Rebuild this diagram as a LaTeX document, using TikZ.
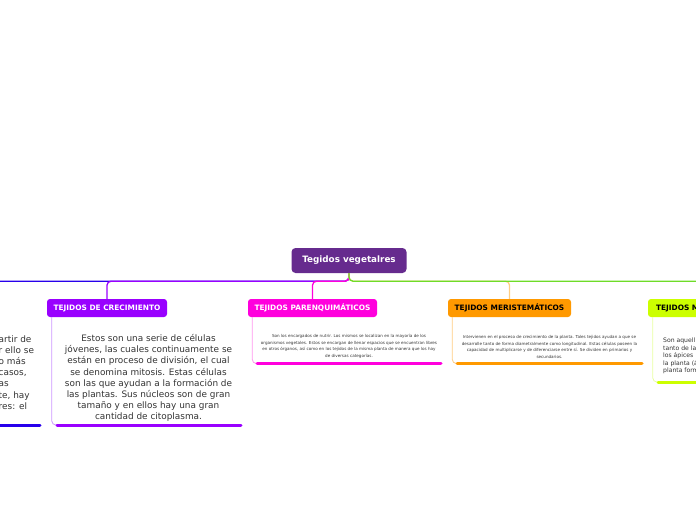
\documentclass[tikz,border=0pt]{standalone}
\usepackage{fontspec}
\setmainfont{DejaVu Sans}
\usetikzlibrary{positioning}
\definecolor{rootpurple}{RGB}{102,43,142}
\definecolor{growpurple}{RGB}{153,0,255}
\definecolor{growlight}{RGB}{205,150,255}
\definecolor{parenpink}{RGB}{255,0,221}
\definecolor{parenlight}{RGB}{255,150,238}
\definecolor{meriorange}{RGB}{255,153,0}
\definecolor{merilight}{RGB}{255,205,130}
\definecolor{limegreen}{RGB}{204,255,0}
\definecolor{limelight}{RGB}{232,255,160}
\definecolor{linkgreen}{RGB}{110,220,40}
\definecolor{deepblue}{RGB}{40,0,235}
\definecolor{textgray}{RGB}{51,51,51}

\begin{document}
\begin{tikzpicture}[x=1pt,y=-1pt,
  root/.style={fill=rootpurple,rounded corners=4pt,text=white,font=\bfseries\fontsize{8.8}{10}\selectfont,minimum width=115pt,minimum height=25pt},
  branch/.style={rounded corners=3pt,font=\bfseries\fontsize{7.4}{8}\selectfont,minimum height=18pt,inner sep=2pt},
  body/.style={text=textgray,align=center,inner sep=0pt},
  bigtext/.style={font=\fontsize{8.9}{11.1}\selectfont},
  tinytext/.style={font=\fontsize{4.1}{6.5}\selectfont},
  link/.style={line width=1.3pt,rounded corners=4pt},
  sideline/.style={line width=0.8pt,rounded corners=4pt},
  bar/.style={line width=3pt,line cap=round}
]
\useasboundingbox (0,0) rectangle (696,520);
\clip (0,0) rectangle (696,520);
\node[root] (veg) at (349,260.5) {Tegidos vegetalres};
\node[branch,fill=growpurple,text=white,minimum width=120pt] (grow) at (107,308) {TEJIDOS DE CRECIMIENTO};
\node[branch,fill=parenpink,text=white,minimum width=129pt] (paren) at (312.5,308) {TEJIDOS PARENQUIMÁTICOS};
\node[branch,fill=meriorange,text=black,minimum width=123pt] (meri) at (509.5,308) {TEJIDOS MERISTEMÁTICOS};
\node[branch,fill=limegreen,text=black,text width=109pt,align=left,inner xsep=8pt] (mech) at (710.5,308) {TEJIDOS M};
% branch links
\coordinate (blueend) at (-90,299);
\draw[link,deepblue] (veg.south) -- ++(0,8) -| (blueend);
\draw[link,growpurple] (veg.south) -- ++(0,8) -| (grow.north);
\draw[link,parenpink] (veg.south) -- ++(0,8) -| (paren.north);
\draw[link,merilight] (veg.south) -- ++(0,8) -| (meri.north);
\draw[link,linkgreen] (veg.south) -- ++(0,8) -| (mech.north);
% texts
\node[body,bigtext,align=left,anchor=west] (bluetext) at (-1.5,372.5) {artir de\\r ello se\\o más\\casos,\\as\\te, hay\\res: el};
\node[body,bigtext] (growtext) at (148.5,378) {Estos son una serie de células\\jóvenes, las cuales continuamente se\\están en proceso de división, el cual\\se denomina mitosis. Estas células\\son las que ayudan a la formación de\\las plantas. Sus núcleos son de gran\\tamaño y en ellos hay una gran\\cantidad de citoplasma.};
\node[body,tinytext] (parentext) at (349,346.5) {Son los encargados de nutrir. Los mismos se localizan en la mayoría de los\\organismos vegetales. Estos se encargan de llenar espacios que se encuentran libres\\en otros órganos, así como en los tejidos de la misma planta de manera que los hay\\de diversas categorías.};
\node[body,tinytext] (meritext) at (549.5,347) {Intervienen en el proceso de crecimiento de la planta. Tales tejidos ayudan a que se\\desarrolle tanto de forma diametralmente como longitudinal. Estas células poseen la\\capacidad de multiplicarse y de diferenciarse entre sí. Se dividen en primarios y\\secundarios.};
\node[body,font=\fontsize{6.1}{7.5}\selectfont,align=left,anchor=west] (mechtext) at (663,356) {Son aquell\\tanto de la\\los ápices\\la planta (á\\planta form};
% frames under the texts
\coordinate (bluebarA) at (-150,425);
\coordinate (bluebarB) at (40,425);
\draw[bar,deepblue] (bluebarA) -- (bluebarB);
\coordinate (growbarA) at (57,425);
\coordinate (growbarB) at (241,425);
\draw[sideline,growlight] ([xshift=5pt]grow.south west) |- (growbarA);
\draw[bar,growpurple] (growbarA) -- (growbarB);
\coordinate (parenbarA) at (257,363.5);
\coordinate (parenbarB) at (441,363.5);
\draw[sideline,parenlight] ([xshift=4.5pt]paren.south west) |- (parenbarA);
\draw[bar,parenpink] (parenbarA) -- (parenbarB);
\coordinate (meribarA) at (457,363.5);
\coordinate (meribarB) at (642,363.5);
\draw[sideline,merilight] ([xshift=4.5pt]meri.south west) |- (meribarA);
\draw[bar,meriorange] (meribarA) -- (meribarB);
\coordinate (mechbarA) at (658,382);
\coordinate (mechbarB) at (760,382);
\draw[sideline,limelight] ([xshift=5pt]mech.south west) |- (mechbarA);
\draw[bar,limegreen] (mechbarA) -- (mechbarB);
\end{tikzpicture}
\end{document}
